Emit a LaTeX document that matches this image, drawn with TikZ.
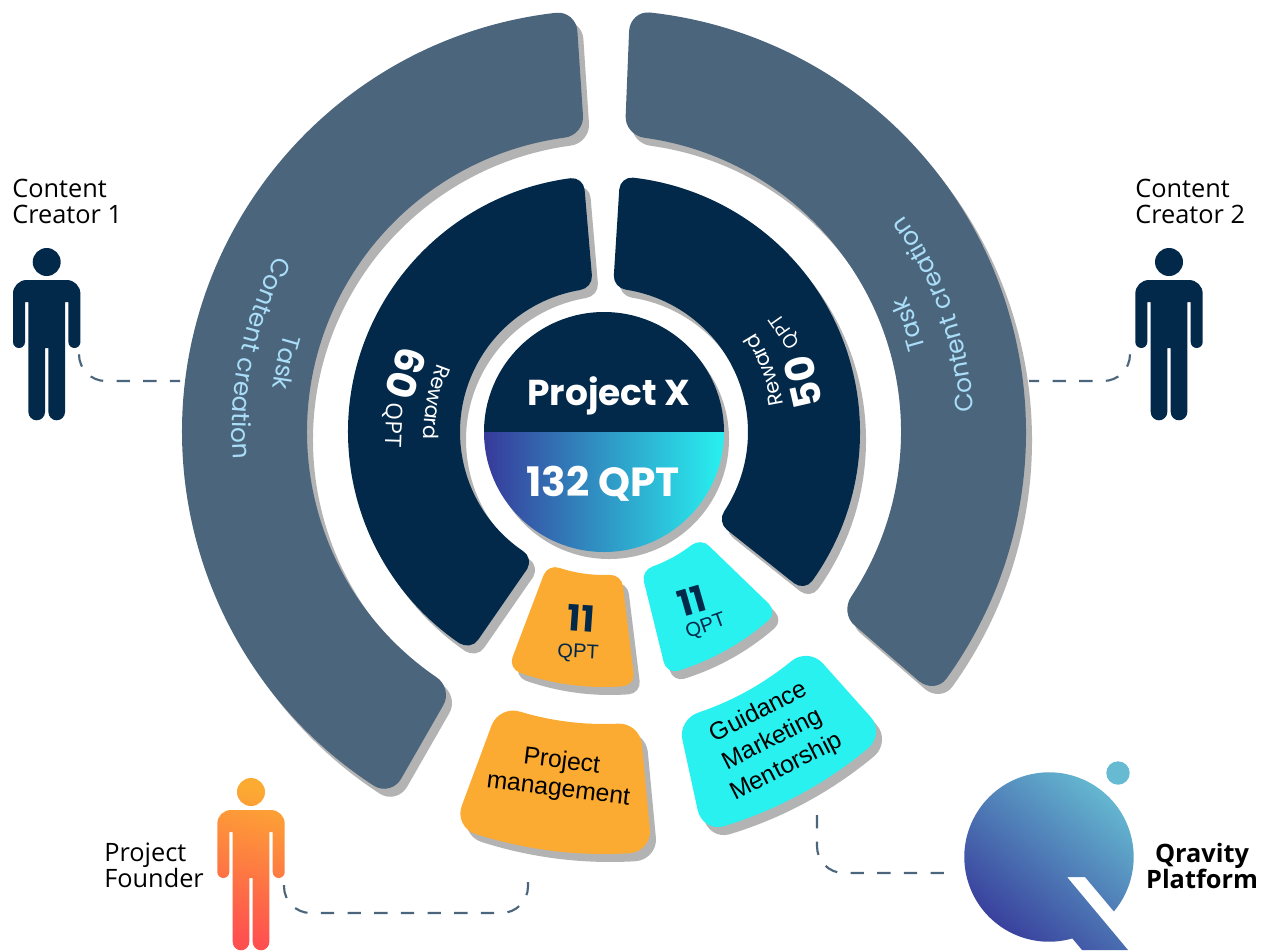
\documentclass[tikz,border=0pt]{standalone}
\usepackage{fontspec}
\setmainfont{Open Sans}
\newfontfamily\headfont{Poppins}
\newfontfamily\boxfont{Liberation Sans}
\usetikzlibrary{decorations.text}

\definecolor{bandblue}{HTML}{4B657C}
\definecolor{darkblue}{HTML}{02294A}
\definecolor{shadowgray}{HTML}{B3B3B3}
\definecolor{sectororange}{HTML}{FCAB32}
\definecolor{sectorcyan}{HTML}{28F1F0}
\definecolor{tasklight}{HTML}{A9DDF8}
\definecolor{logodeep}{HTML}{373A9A}
\definecolor{logolight}{HTML}{66BBD2}
\definecolor{founderred}{HTML}{FF5050}

\tikzset{
  dashline/.style={draw=bandblue, line width=1.6pt, dash pattern=on 10pt off 10pt, rounded corners=20pt},
  person/.pic={
    \path[pic actions] (0,0) circle[radius=14]
      (-20,-18) -- (20,-18) arc[start angle=90, end angle=0, radius=13.7]
      -- (33.7,-80) arc[start angle=0, end angle=-180, radius=6]
      -- (21.7,-40) -- (18.3,-40) -- (18.3,-150) arc[start angle=0, end angle=-180, radius=8.3]
      -- (1.7,-86) -- (-1.7,-86) -- (-1.7,-150) arc[start angle=0, end angle=-180, radius=8.3]
      -- (-18.3,-40) -- (-21.7,-40) -- (-21.7,-80) arc[start angle=0, end angle=-180, radius=6]
      -- (-33.7,-31.7) arc[start angle=180, end angle=90, radius=13.7] -- cycle;
  },
  label/.style={inner sep=0pt, align=left, anchor=north west, font=\fontsize{19}{19.5}\selectfont},
  boxtext/.style={inner sep=0pt, align=center, text=black, font=\boxfont\fontsize{18.5}{21}\selectfont},
  qptsmall/.style={inner sep=0pt, text=darkblue, font=\boxfont\fontsize{15}{16}\selectfont},
  elevensmall/.style={inner sep=0pt, text=darkblue, font=\headfont\bfseries\fontsize{27}{28}\selectfont},
  rewardbig/.style={inner sep=0pt, text=white, font=\headfont\bfseries\fontsize{30}{31}\selectfont},
  rewardqpt/.style={inner sep=0pt, text=white, font=\fontsize{17}{18}\selectfont},
}

% #1 colour, #2 rin, #3 rout, #4 start in, #5 start out, #6 end in, #7 end out, #8 corner
\newcommand{\sector}[8]{
  \pgfmathsetmacro\dout{#8/#3*57.3}
  \pgfmathsetmacro\din{#8/#2*57.3}
  \pgfmathsetmacro\aout{#5+\dout}
  \pgfmathsetmacro\bout{#7-\dout}
  \pgfmathsetmacro\ain{#4+\din}
  \pgfmathsetmacro\bin{#6-\din}
  \pgfmathsetmacro\frac{#8/(#3-#2)}
  \pgfmathsetmacro\aoutside{#5+(#4-#5)*\frac}
  \pgfmathsetmacro\ainside{#4+(#5-#4)*\frac}
  \pgfmathsetmacro\boutside{#7+(#6-#7)*\frac}
  \pgfmathsetmacro\binside{#6+(#7-#6)*\frac}
  \foreach \shadowx/\shadowy/\sectorfill in {6/-8/shadowgray, 0/0/#1} {
    \fill[\sectorfill, shift={(\shadowx,\shadowy)}] (\aout:#3) arc[start angle=\aout, end angle=\bout, radius=#3]
      .. controls (\bout+0.55*\dout:#3) and (\boutside:#3-0.45*#8) .. (\boutside:#3-#8)
      -- (\binside:#2+#8)
      .. controls (\binside:#2+0.45*#8) and (\bin+0.55*\din:#2) .. (\bin:#2)
      arc[start angle=\bin, end angle=\ain, radius=#2]
      .. controls (\ain-0.55*\din:#2) and (\ainside:#2+0.45*#8) .. (\ainside:#2+#8)
      -- (\aoutside:#3-#8)
      .. controls (\aoutside:#3-0.45*#8) and (\aout-0.55*\dout:#3) .. (\aout:#3) -- cycle;
  }
}

% #1 font and colour, #2 text, #3 baseline radius, #4 middle angle
\newcommand{\curvetext}[4]{
  \pgfmathsetmacro\curvea{#4-45}
  \pgfmathsetmacro\curveb{#4+45}
  \path[decorate, decoration={text along path, text={|#1|#2}, text align={center}}]
    (\curvea:#3) arc[start angle=\curvea, end angle=\curveb, radius=#3];
}

\begin{document}
\begin{tikzpicture}[x=0.75pt, y=0.75pt]
  \useasboundingbox (0,-950) rectangle (1270,0);

  \begin{scope}[shift={(604,-432)}]
    \sector{bandblue}{297}{422}{93.8}{93.8}{239.5}{239.7}{20}
    \sector{bandblue}{297}{422}{-37.5}{-38.5}{86}{86.5}{20}
    \sector{darkblue}{144}{256}{94.4}{94.6}{241}{238.5}{13}
    \sector{darkblue}{144}{256}{-38.5}{-38.5}{86.4}{86.4}{13}
    \sector{sectororange}{143}{255}{247}{248}{277}{277}{12}
    \sector{sectorcyan}{143}{250}{285}{284.5}{312.5}{314}{12}
    \sector{sectororange}{292}{422}{249}{249.2}{277}{276.5}{22}
    \sector{sectorcyan}{296}{412}{284.4}{283.8}{313.5}{313}{22}

    \fill[shadowgray] (5,-7) circle[radius=120];
    \fill[darkblue] (-120,0) arc[start angle=180, end angle=0, radius=120] -- cycle;
    \shade[left color=logodeep, right color=sectorcyan] (-120,0) arc[start angle=180, end angle=360, radius=120] -- cycle;

    \curvetext{\headfont\fontsize{18.7}{19}\selectfont\color{tasklight}}{Content creation}{372}{168}
    \curvetext{\headfont\fontsize{18.5}{19}\selectfont\color{tasklight}}{Task}{334}{167.7}
    \curvetext{\headfont\fontsize{18.7}{19}\selectfont\color{tasklight}}{Content creation}{370}{19.5}
    \curvetext{\headfont\fontsize{18.5}{19}\selectfont\color{tasklight}}{Task}{332}{19.4}
    \curvetext{\headfont\fontsize{15.5}{16}\selectfont\color{white}}{Reward}{180}{170}
    \curvetext{\headfont\fontsize{15.5}{16}\selectfont\color{white}}{Reward}{181}{21}
  \end{scope}

  \node[inner sep=0pt, anchor=base, text=white, font=\headfont\bfseries\fontsize{27}{28}\selectfont] (projectx) at (609,-405) {Project X};
  \node[inner sep=0pt, anchor=base, text=white, font=\headfont\bfseries\fontsize{30.5}{31}\selectfont] (totalqpt) at (603,-496) {132 QPT};

  \node[rewardbig, rotate=-107] (reward60) at (406,-373) {60};
  \node[rewardqpt, rotate=-92] (qpt60) at (392,-425) {QPT};
  \node[rewardbig, rotate=103] (reward50) at (803,-382) {50};
  \node[rewardqpt, font=\fontsize{14.5}{15}\selectfont, rotate=125] (qpt50) at (785,-331) {QPT};

  \node[elevensmall, rotate=-4] (founderpart) at (581,-618) {11};
  \node[qptsmall, rotate=-3] (founderqpt) at (578,-653) {QPT};
  \node[elevensmall, rotate=16] (platformpart) at (692,-601) {11};
  \node[qptsmall, rotate=20] (platformqpt) at (706,-627) {QPT};

  \node[boxtext, rotate=-7] (management) at (560,-776) {Project\\management};
  \node[boxtext, font=\boxfont\fontsize{18.5}{23}\selectfont, rotate=27] (guidance) at (773,-740) {Guidance\\Marketing\\Mentorship};

  \pic (creatorone) [fill=darkblue] at (46.7,-262) {person};
  \pic (creatortwo) [fill=darkblue] at (1169,-262) {person};
  \pic (founder) [top color=sectororange, bottom color=founderred, shading angle=-15] at (251,-792) {person};

  \node[label] (creatoronelabel) at (12,-179) {Content\\Creator 1};
  \node[label] (creatortwolabel) at (1135,-179) {Content\\Creator 2};
  \node[label] (founderlabel) at (104,-843) {Project\\Founder};
  \node[inner sep=0pt, align=center, font=\bfseries\fontsize{19}{19.5}\selectfont] (platformlabel) at (1202,-866) {Qravity\\Platform};

  \shade[bottom color=logodeep, top color=logolight, shading angle=-40]
    ([shift={(1049,-857)}]-74:84.7) arc[start angle=-74, end angle=-400, radius=84.7]
    -- (1085,-877) -- (1067,-877) -- (1128,-950) -- (1082,-950) -- cycle;
  \fill[logolight] (1118,-773) circle[radius=11.7];

  \coordinate (creatoronearm) at (79,-355);
  \coordinate (creatoroneband) at (180,-381);
  \coordinate (creatortwoarm) at (1130,-355);
  \coordinate (creatortwoband) at (1029,-381);
  \coordinate (founderarm) at (284,-885);
  \coordinate (founderbend) at (528,-913);
  \coordinate (managementend) at (528,-873);
  \coordinate (guidanceend) at (817,-815);
  \coordinate (logoedge) at (953,-873);

  \draw[dashline] (creatoronearm) |- (creatoroneband);
  \draw[dashline] (creatortwoarm) |- (creatortwoband);
  \draw[dashline] (founderarm) |- (founderbend) -- (managementend);
  \draw[dashline] (guidanceend) |- (logoedge);
\end{tikzpicture}
\end{document}
